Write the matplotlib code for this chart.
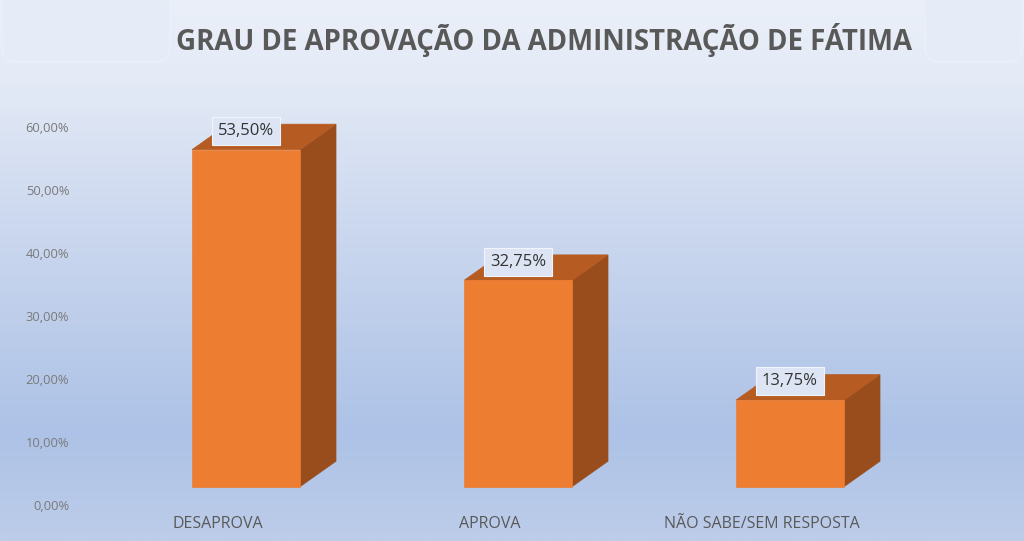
import matplotlib
matplotlib.use("Agg")
import matplotlib.pyplot as plt
import numpy as np
from matplotlib.patches import Polygon, Rectangle, FancyBboxPatch
from matplotlib.colors import LinearSegmentedColormap

# ---- data ----
categories = ["DESAPROVA", "APROVA", "NÃO SABE/SEM RESPOSTA"]
values = [53.50, 32.75, 13.75]
yticks = [0, 10, 20, 30, 40, 50, 60]
title = "GRAU DE APROVAÇÃO DA ADMINISTRAÇÃO DE FÁTIMA"

# ---- styling ----
FRONT = "#ED7D31"
TOP = "#B65B22"
SIDE = "#9A4D1C"
W = 0.397      # bar width (category units)
DX = 0.1324    # depth offset x (category units)
DY = 4.05      # depth offset y (value units)
FLOOR = 2.9    # floor offset (value units)

plt.rcParams['font.family'] = ['Open Sans', 'DejaVu Sans']

fig = plt.figure(figsize=(10.24, 5.41), dpi=100)

# background gradient
bg = fig.add_axes([0, 0, 1, 1], zorder=-10)
bg.set_axis_off()
cmap = LinearSegmentedColormap.from_list(
    "bg", [(0.0, "#eaeff9"), (0.12, "#e6ecf7"), (0.45, "#c9d6ee"),
           (0.80, "#adc2e6"), (1.0, "#bdcdea")])
grad = np.linspace(0, 1, 256).reshape(-1, 1)
bg.imshow(grad, aspect="auto", cmap=cmap, extent=[0, 1, 0, 1], origin="upper")
bg.set_xlim(0, 1)
bg.set_ylim(0, 1)
# top rounded panels
for x0, x1 in [(2, 170), (925, 1022)]:
    p = FancyBboxPatch((x0 / 1024, 1 - 62 / 541), (x1 - x0) / 1024, 80 / 541,
                       boxstyle="round,pad=0,rounding_size=0.015",
                       facecolor="#e5ebf7", edgecolor="#edf1f9", lw=0.8,
                       transform=bg.transAxes, mutation_aspect=1024 / 541)
    bg.add_patch(p)

ax = fig.add_axes([72 / 1024, 1 - 505 / 541, 952 / 1024, 441 / 541])
ax.patch.set_alpha(0)
ax.set_xlim(-0.6397, 2.8603)
ax.set_ylim(0, 70)
for s in ax.spines.values():
    s.set_visible(False)

for i, v in enumerate(values):
    x0, x1 = i - W / 2, i + W / 2
    yb, yt = FLOOR, FLOOR + v
    side = Polygon([(x1, yb), (x1 + DX, yb + DY), (x1 + DX, yt + DY), (x1, yt)],
                   closed=True, facecolor=SIDE, edgecolor=SIDE, lw=0.5, zorder=2)
    top = Polygon([(x0, yt), (x1, yt), (x1 + DX, yt + DY), (x0 + DX, yt + DY)],
                  closed=True, facecolor=TOP, edgecolor=TOP, lw=0.5, zorder=2)
    front = Rectangle((x0, yb), W, v, facecolor=FRONT, edgecolor=FRONT, lw=0.5, zorder=3)
    ax.add_patch(side)
    ax.add_patch(top)
    ax.add_patch(front)
    lbl = f"{v:.2f}%".replace(".", ",")
    ax.text(i, yt + 0.74 * DY, lbl, ha="center", va="center", fontsize=12,
            color="#333333", zorder=5,
            bbox=dict(boxstyle="square,pad=0.36", facecolor="#dde5f4",
                      edgecolor="#f0f4fb", lw=0.8))

ax.set_yticks(yticks)
ax.set_yticklabels([f"{t:.2f}%".replace(".", ",") for t in yticks],
                   fontsize=9.3, color="#7a7a7a")
ax.tick_params(axis="y", length=0, pad=2)

ax.set_xticks([i - 0.103 for i in range(len(categories))])
ax.set_xticklabels(categories, fontsize=11.5, color="#595959")
ax.tick_params(axis="x", length=0, pad=8)

fig.text(544 / 1024, 1 - 50 / 541, title, ha="center", va="baseline",
         fontsize=19.9, fontweight="bold", color="#595959")

fig.savefig("out.png", dpi=100)
